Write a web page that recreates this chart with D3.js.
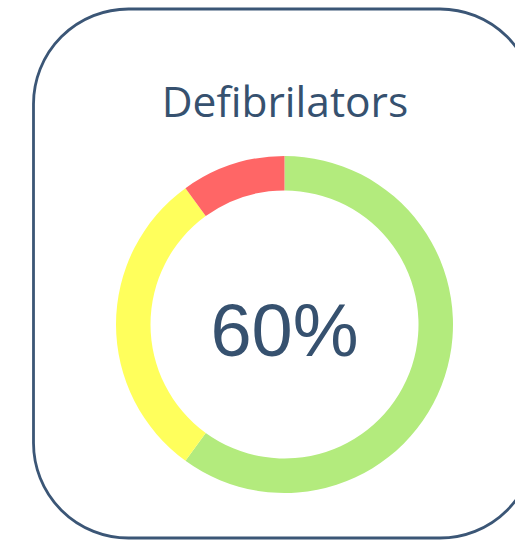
<!DOCTYPE html>
<html>
<head>
<meta charset="utf-8">
<script src="https://cdn.jsdelivr.net/npm/d3@7"></script>
<style>
    body { margin: 0; background: #fff; }
    svg { display: block; }
</style>
</head>
<body>
<div id="card"></div>
<script>
var title = "Defibrilators";
var categories = ["ok", "warning", "missing"];
var values = [60, 30, 10];
var colors = ["#b3eb7d", "#ffff5c", "#ff6666"];
var centerLabel = "60%";

var width = 515, height = 541;
var textColor = "#36516f";

var svg = d3.select("#card")
    .append("svg")
    .attr("width", width)
    .attr("height", height);

// carte arrondie
svg.append("rect")
    .attr("x", 33.5)
    .attr("y", 9)
    .attr("width", 501.5)
    .attr("height", 529)
    .attr("rx", 95)
    .attr("ry", 95)
    .style("fill", "none")
    .style("stroke", "#3b5676")
    .style("stroke-width", 2.8);

svg.append("text")
    .attr("x", 285)
    .attr("y", 117)
    .attr("text-anchor", "middle")
    .style("font-family", "'Open Sans', sans-serif")
    .style("font-size", "42.5px")
    .style("fill", textColor)
    .text(title);

var cx = 284.5, cy = 324.5;

var pie = d3.pie()
    .sort(null)
    .value(function (d) { return d; });

var arc = d3.arc()
    .innerRadius(134)
    .outerRadius(168.5);

var g = svg.append("g")
    .attr("transform", "translate(" + cx + "," + cy + ")");

g.selectAll("path")
    .data(pie(values))
    .enter()
    .append("path")
    .attr("d", arc)
    .attr("class", function (d, i) { return categories[i]; })
    .style("fill", function (d, i) { return colors[i]; });

g.append("text")
    .attr("x", 0)
    .attr("y", 31)
    .attr("text-anchor", "middle")
    .style("font-family", "'Liberation Sans', Arial, sans-serif")
    .style("font-size", "74px")
    .style("fill", textColor)
    .text(centerLabel);
</script>
</body>
</html>
